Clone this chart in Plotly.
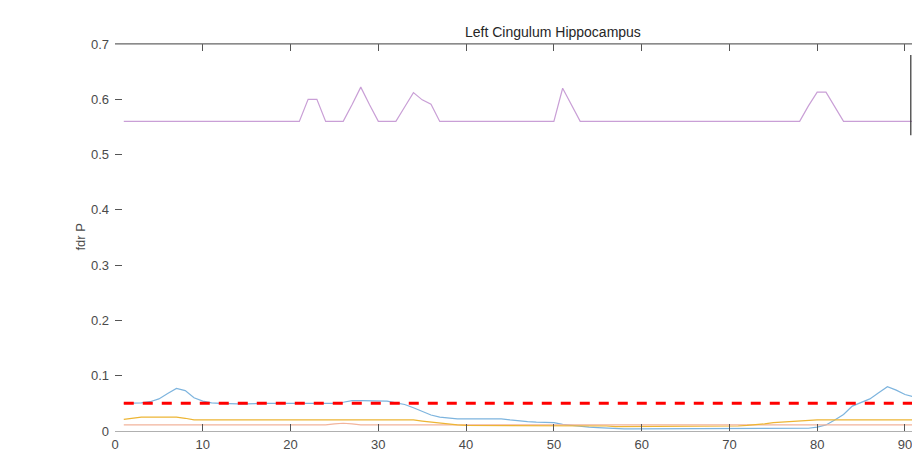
import plotly.graph_objects as go

x_vals = list(range(1, 93))

purple_base = 0.56
purple_peaks = {22: 0.60, 23: 0.60, 27: 0.59, 28: 0.622, 29: 0.59,
                33: 0.586, 34: 0.612, 35: 0.599, 36: 0.591,
                51: 0.62, 52: 0.59,
                79: 0.588, 80: 0.613, 81: 0.613, 82: 0.587}
purple = [purple_peaks.get(x, purple_base) for x in x_vals]

blue = [0.050, 0.050, 0.051, 0.053, 0.058, 0.068, 0.077, 0.073, 0.060, 0.054,
        0.051, 0.050, 0.049, 0.049, 0.049, 0.050, 0.050, 0.050, 0.050, 0.050,
        0.050, 0.050, 0.049, 0.049, 0.050, 0.052, 0.055, 0.055, 0.055, 0.055,
        0.054, 0.051, 0.048, 0.042, 0.035, 0.029, 0.025, 0.023, 0.022, 0.022,
        0.022, 0.022, 0.022, 0.022, 0.020, 0.018, 0.017, 0.016, 0.016, 0.015,
        0.012, 0.010, 0.009, 0.007, 0.006, 0.005, 0.004, 0.004, 0.004, 0.004,
        0.004, 0.004, 0.004, 0.004, 0.004, 0.004, 0.004, 0.004, 0.004, 0.004,
        0.004, 0.004, 0.004, 0.004, 0.004, 0.004, 0.004, 0.004, 0.005, 0.007,
        0.011, 0.020, 0.030, 0.045, 0.051, 0.058, 0.069, 0.080, 0.074, 0.066,
        0.062, 0.060]
yellow = [0.021, 0.023, 0.025, 0.025, 0.025, 0.025, 0.025, 0.023, 0.020] + [0.020]*25 + \
         [0.018, 0.016, 0.014, 0.012, 0.011] + [0.010]*16 + [0.009] + [0.008]*14 + \
         [0.009, 0.010, 0.011, 0.013, 0.015, 0.016, 0.018, 0.019] + [0.020]*14
salmon = [0.011]*24 + [0.013, 0.014, 0.013] + [0.011]*65
threshold = [0.05]*92

y_ticks = [0, 0.1, 0.2, 0.3, 0.4, 0.5, 0.6, 0.7]
y_tick_labels = ["0", "0.1", "0.2", "0.3", "0.4", "0.5", "0.6", "0.7"]
x_ticks = [0, 10, 20, 30, 40, 50, 60, 70, 80, 90]

fig = go.Figure()
fig.add_trace(go.Scatter(x=x_vals, y=blue, mode="lines", line=dict(color="#7db4de", width=1.2)))
fig.add_trace(go.Scatter(x=x_vals, y=salmon, mode="lines", line=dict(color="#f2b49c", width=1.2)))
fig.add_trace(go.Scatter(x=x_vals, y=yellow, mode="lines", line=dict(color="#edb534", width=1.2)))
fig.add_trace(go.Scatter(x=x_vals, y=purple, mode="lines", line=dict(color="#c99fd6", width=1.2)))
fig.add_trace(go.Scatter(x=x_vals, y=threshold, mode="lines",
                         line=dict(color="#ff0000", width=3, dash="10px,9px")))

FAM = "Liberation Sans, Arial, sans-serif"
font = dict(family=FAM, size=13, color="#4a4a4a")

fig.update_layout(
    width=912, height=470, autosize=False,
    margin=dict(l=115, r=0, t=44, b=39, autoexpand=False),
    paper_bgcolor="white", plot_bgcolor="white",
    showlegend=False,
    font=font,
    xaxis=dict(range=[0, 90.8], tickvals=x_ticks, ticks="inside", ticklen=7,
               tickcolor="#555555", showline=True, linecolor="#b0b0b0", linewidth=1,
               mirror="ticks", showgrid=False, zeroline=False, tickfont=font,
               automargin=False, ticklabelstandoff=1, ticklabeloverflow="allow"),
    yaxis=dict(range=[0, 0.7], tickvals=y_ticks, ticktext=y_tick_labels, ticks="inside",
               ticklen=7, tickcolor="#555555", showline=False, showgrid=False,
               zeroline=False, tickfont=font, automargin=False, ticklabelstandoff=5),
    annotations=[
        dict(text="Left Cingulum Hippocampus", xref="paper", yref="paper",
             x=0.5496, y=1.0, yanchor="bottom", xanchor="center", showarrow=False,
             yshift=2, font=dict(family=FAM, size=14, color="#262626")),
        dict(text="fdr P", xref="paper", yref="paper", x=-0.0439, y=0.5,
             xanchor="center", yanchor="middle", textangle=-90, showarrow=False,
             font=dict(family=FAM, size=13, color="#4a4a4a")),
    ],
    shapes=[
        dict(type="line", xref="paper", yref="paper", x0=0, x1=1, y0=1, y1=1,
             line=dict(color="#666666", width=1)),
        dict(type="line", xref="paper", yref="y", x0=0.9985, x1=0.9985,
             y0=0.535, y1=0.68, line=dict(color="#333333", width=1.2)),
    ],
)

fig.write_html("out.html", config={"displayModeBar": False},
               post_script="document.body.style.margin='0';document.body.style.overflow='hidden';")
